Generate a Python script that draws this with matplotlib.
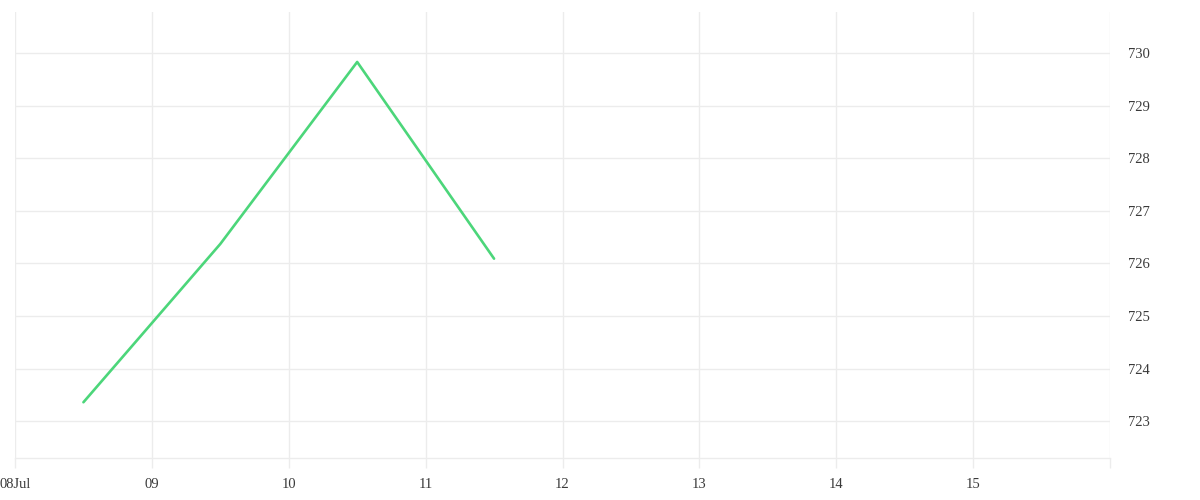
import pandas as pd
import matplotlib.pyplot as plt
import matplotlib.dates as mdates

dates = pd.to_datetime(["2024-07-08 12:00", "2024-07-09 12:00", "2024-07-10 12:00", "2024-07-11 12:00"])
values = [723.36, 726.37, 729.83, 726.09]

tick_days = pd.date_range("2024-07-08", "2024-07-16", freq="D")
tick_labels = ["08Jul", "09", "10", "11", "12", "13", "14", "15", ""]
y_ticks = [723, 724, 725, 726, 727, 728, 729, 730]

plt.rcParams['font.family'] = ['Liberation Serif', 'DejaVu Serif']
grid_c = '#ececec'
text_c = '#3a3a3a'

fig = plt.figure(figsize=(12, 5), dpi=100)
ax = fig.add_axes([15 / 1200, 42 / 500, 1095 / 1200, 446 / 500])

ax.plot(dates, values, color='#4cd67a', linewidth=1.9, solid_capstyle='round')

ax.set_xlim(tick_days[0], tick_days[-1])
ax.set_ylim(722.30, 730.78)

ax.set_xticks(tick_days)
ax.set_xticklabels(tick_labels)
ax.set_yticks(y_ticks)
ax.yaxis.tick_right()

for s in ['top', 'left', 'right']:
    ax.spines[s].set_visible(False)
ax.spines['bottom'].set_color(grid_c)
ax.spines['bottom'].set_linewidth(1)

ax.grid(True, color=grid_c, linewidth=1)
ax.tick_params(axis='x', length=7, color=grid_c, width=1, pad=7.5,
               labelsize=10.5, labelcolor=text_c)
ax.tick_params(axis='y', length=0, pad=13, labelsize=10.5, labelcolor=text_c)
for lab in ax.get_yticklabels():
    lab.set_horizontalalignment('left')

fig.savefig('out.png', dpi=100)
